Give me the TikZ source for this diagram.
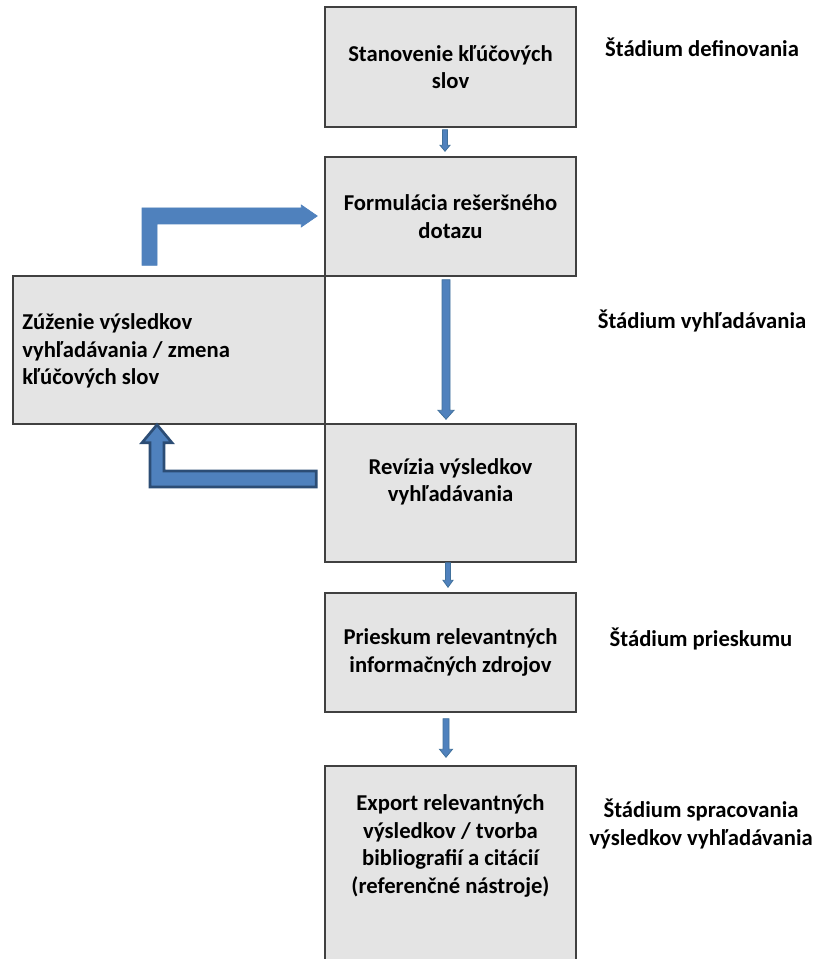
\documentclass[tikz,border=0pt]{standalone}
\usepackage{fontspec}
\setmainfont{Carlito}
\usetikzlibrary{calc}
\definecolor{boxfill}{HTML}{E4E4E4}
\definecolor{boxline}{HTML}{404040}
\definecolor{arrfill}{HTML}{4F81BD}
\definecolor{arrline}{HTML}{41719C}
\definecolor{arrdark}{HTML}{2C4D75}
\newcommand\vblk[5]{\filldraw[smallarrow] ($(#1)+(-#3,0)$) -- ($(#1)+(#3,0)$) -- ($(#2)+(#3,-#5)$) -- ($(#2)+(#4,-#5)$) -- (#2) -- ($(#2)+(-#4,-#5)$) -- ($(#2)+(-#3,-#5)$) -- cycle;}
\begin{document}
\begin{tikzpicture}[x=0.75pt,y=-0.75pt,
  font=\fontsize{17}{20.5}\selectfont\bfseries,
  box/.style={draw=boxline, fill=boxfill, line width=1.1pt, inner sep=0pt, align=center, minimum width=188.25pt},
  txt/.style={align=center, inner sep=0pt},
  smallarrow/.style={fill=arrfill, draw=arrline, line width=0.6pt, line join=miter},
  bigarrow/.style={fill=arrfill, draw=arrfill, line width=0.5pt, line join=miter},
  darkarrow/.style={fill=arrfill, draw=arrdark, line width=2pt, line join=miter}]
\clip (0,0) rectangle (817,959);
\fill[white] (0,0) rectangle (817,959);
% boxes
\node[box, minimum height=90pt] (b1) at (450.5,67) {Stanovenie kľúčových\\slov};
\node[box, minimum height=89.25pt] (b2) at (450.5,216.5) {Formulácia rešeršného\\dotazu};
\node[box, minimum height=111pt, minimum width=234pt] (b3) at (169,350) {};
\node[txt, align=left, anchor=west] (t3) at (22,351) {Zúženie výsledkov\\vyhľadávania / zmena\\kľúčových slov};
\node[box, minimum height=103.5pt] (b4) at (450.5,493) {};
\node[txt] (t4) at (450.5,482) {Revízia výsledkov\\vyhľadávania};
\node[box, minimum height=89.25pt] (b5) at (450.5,652.5) {Prieskum relevantných\\informačných zdrojov};
\node[box, minimum height=175.5pt] (b6) at (450.5,883) {};
\node[txt, font=\fontsize{17}{20.9}\selectfont\bfseries] (t6) at (450.5,846) {Export relevantných\\výsledkov / tvorba\\bibliografií a citácií\\(referenčné nástroje)};
% stage labels
\node[txt] (l1) at (702,47) {Štádium definovania};
\node[txt] (l2) at (702,321) {Štádium vyhľadávania};
\node[txt] (l3) at (701,639) {Štádium prieskumu};
\node[txt] (l4) at (701,824) {Štádium spracovania\\výsledkov vyhľadávania};
% small vertical arrows
\coordinate (a1s) at ($(b1.south)+(-5.5,2)$);
\coordinate (a1e) at ($(b2.north)+(-5.5,-5)$);
\vblk{a1s}{a1e}{2.5}{5}{6}
\coordinate (a2s) at ($(b2.south)+(-4.5,3)$);
\coordinate (a2e) at ($(b4.north)+(-4.5,-4)$);
\vblk{a2s}{a2e}{4}{8}{9}
\coordinate (a3s) at ($(b4.south)+(-2.5,0)$);
\coordinate (a3e) at ($(b5.north)+(-2.5,-5)$);
\vblk{a3s}{a3e}{2.5}{5}{7}
\coordinate (a4s) at ($(b5.south)+(-4.5,6)$);
\coordinate (a4e) at ($(b6.north)+(-4.5,-8)$);
\vblk{a4s}{a4e}{3}{6.5}{8}
% bent arrow from b3 to b2
\coordinate (s1) at ($(b3.north)+(-19.5,-10)$);
\coordinate (e1) at ($(b2.west)+(-7,-0.5)$);
\coordinate (c1) at (s1 |- e1);
\filldraw[bigarrow] ($(s1)+(-7.5,0)$) -- ($(s1)+(7.5,0)$) -- ($(c1)+(7.5,8)$) -- ($(e1)+(-16,8)$) -- ($(e1)+(-16,11)$) -- (e1) -- ($(e1)+(-16,-11)$) -- ($(e1)+(-16,-8)$) -- ($(c1)+(-7.5,-8)$) -- cycle;
% bent arrow from b4 to b3
\coordinate (s2) at ($(b4.west)+(-8,-14)$);
\coordinate (e2) at ($(b3.south)+(-12,0)$);
\coordinate (c2) at (e2 |- s2);
\filldraw[darkarrow] ($(s2)+(0,8)$) -- ($(c2)+(-7,8)$) -- ($(e2)+(-7,18)$) -- ($(e2)+(-15,18)$) -- (e2) -- ($(e2)+(15,18)$) -- ($(e2)+(7,18)$) -- ($(c2)+(7,-8)$) -- ($(s2)+(0,-8)$) -- cycle;
\end{tikzpicture}
\end{document}
